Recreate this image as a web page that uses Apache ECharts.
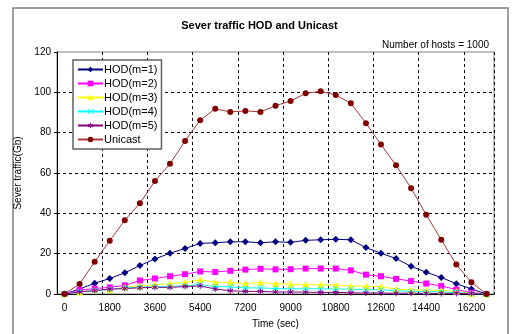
<!DOCTYPE html>
<html>
<head>
<meta charset="utf-8">
<script src="https://cdn.jsdelivr.net/npm/echarts@6/dist/echarts.min.js"></script>
<style>
  html, body { margin: 0; padding: 0; background: #fff; }
  #chart { width: 519px; height: 334px; }
</style>
</head>
<body>
<div id="chart"></div>
<script>
// time in seconds, one point every 600 s
var times = [0, 600, 1200, 1800, 2400, 3000, 3600, 4200, 4800, 5400, 6000, 6600, 7200, 7800, 8400,
  9000, 9600, 10200, 10800, 11400, 12000, 12600, 13200, 13800, 14400, 15000, 15600, 16200, 16800];

var hod1 = [0, 2.5, 5.3, 7.7, 10.5, 14.1, 17.4, 20.2, 22.6, 25.1, 25.4, 25.9, 25.9, 25.4, 25.9,
  25.6, 26.6, 26.9, 27.1, 26.9, 23, 20.2, 17.6, 13.7, 10.8, 8.2, 5.1, 2.5, 0];
var hod2 = [0, 2, 2.7, 3.3, 4.3, 6.7, 7.7, 8.8, 9.8, 11.2, 10.9, 11.5, 12.1, 12.5, 12.2,
  12.3, 12.6, 12.6, 12.6, 11.7, 9.6, 8.8, 7.5, 6.4, 5.2, 4, 2.2, 0.7, 0];
var hod3 = [0, 1, 1.8, 2.3, 3.3, 4, 4.6, 5.1, 5.8, 7.1, 5.8, 5.8, 5.2, 5.7, 5.2,
  4.8, 4.6, 4.6, 4.4, 4.0, 3.8, 3.7, 2.4, 2.0, 1.9, 1.8, 1.2, 0.4, 0];
var hod4 = [0, 1.2, 1.6, 2.4, 3.0, 3.4, 3.6, 3.7, 4.1, 4.6, 3.7, 3.5, 3.0, 3.0, 2.7,
  2.6, 2.6, 2.6, 2.5, 2.4, 2.1, 2.1, 1.6, 1.3, 1.1, 1.1, 0.7, 0.2, 0];
var hod5 = [0, 1, 1.7, 2.4, 2.7, 3.1, 3.3, 3.3, 3.7, 4.0, 2.5, 1.6, 1.3, 1.3, 1.0,
  1.0, 0.9, 0.8, 0.8, 0.6, 0.5, 0.5, 0.4, 0.4, 0.3, 0.3, 0.3, 0.2, 0];
var unicast = [0, 5, 16, 26.4, 36.6, 45, 56, 64.6, 75.9, 86.2, 91.8, 90.3, 90.8, 90.3, 93.4,
  95.7, 99.5, 100.5, 98.7, 94.6, 84.7, 74.1, 63.8, 52.5, 39.3, 26.9, 14.6, 5.8, 0];

var font = 'Liberation Sans';
var xMark = 'path://M0,1L1,0L5,4L9,0L10,1L6,5L10,9L9,10L5,6L1,10L0,9L4,5Z';
var starMark = 'path://M4.3,0H5.7V3.3L8.6,1.6L9.3,2.8L6.4,4.5L9.3,6.2L8.6,7.4L5.7,5.7V9H4.3V5.7L1.4,7.4L0.7,6.2L3.6,4.5L0.7,2.8L1.4,1.6L4.3,3.3Z';

function line(name, data, color, symbol, size, lineColor) {
  return {
    name: name,
    type: 'line',
    data: data,
    symbol: symbol,
    symbolSize: size,
    showSymbol: true,
    animation: false,
    lineStyle: { color: lineColor || color, width: 1 },
    itemStyle: { color: color }
  };
}

var myChart = echarts.init(document.getElementById('chart'));
var option = {
  backgroundColor: '#fff',
  animation: false,
  textStyle: { fontFamily: font },
  title: [
    {
      text: 'Sever traffic HOD and Unicast',
      left: 'center',
      top: 15,
      textStyle: { fontSize: 11, fontWeight: 'bold', color: '#000', fontFamily: font }
    },
    {
      text: 'Number of hosts = 1000',
      right: 25,
      top: 35,
      textStyle: { fontSize: 10, fontWeight: 'normal', color: '#000', fontFamily: font }
    }
  ],
  graphic: [{
    type: 'rect',
    shape: { x: 13, y: 8, width: 495, height: 340 },
    style: { fill: 'none', stroke: '#808080', lineWidth: 1.5 },
    silent: true
  }],
  legend: {
    orient: 'vertical',
    left: 73,
    top: 60,
    itemWidth: 25,
    itemHeight: 7,
    itemGap: 1,
    padding: [3, 4, 3, 4],
    backgroundColor: '#fff',
    borderColor: '#606060',
    borderWidth: 1.5,
    textStyle: { fontSize: 11, color: '#000', fontFamily: font, padding: [0, 0, 0, -4], lineHeight: 13 },
    data: ['HOD(m=1)', 'HOD(m=2)', 'HOD(m=3)', 'HOD(m=4)', 'HOD(m=5)', 'Unicast']
  },
  grid: {
    left: 57,
    right: 25,
    top: 52,
    bottom: 38,
    show: true,
    borderColor: '#808080',
    borderWidth: 1,
    backgroundColor: '#fff'
  },
  xAxis: {
    type: 'category',
    data: times,
    boundaryGap: true,
    name: 'Time (sec)',
    nameLocation: 'middle',
    nameGap: 25,
    nameTextStyle: { fontSize: 10, color: '#000', fontFamily: font },
    axisLine: { lineStyle: { color: '#000', width: 1 } },
    axisTick: { interval: 2, length: 4, lineStyle: { color: '#000' } },
    axisLabel: { interval: 2, fontSize: 10, color: '#000', margin: 9, fontFamily: font },
    splitLine: { show: true, interval: 2, lineStyle: { color: '#000', type: [3, 3], width: 1 } }
  },
  yAxis: {
    type: 'value',
    min: 0,
    max: 120,
    interval: 20,
    name: 'Sever traffic(Gb)',
    nameLocation: 'middle',
    nameGap: 23,
    nameTextStyle: { fontSize: 10, color: '#000', fontFamily: font },
    axisLine: { show: true, lineStyle: { color: '#000', width: 1 } },
    axisTick: { show: true, length: 3, lineStyle: { color: '#000' } },
    axisLabel: { fontSize: 10, color: '#000', margin: 6, fontFamily: font },
    splitLine: {
      show: true,
      lineStyle: {
        color: ['#000', '#000', '#000', '#000', '#000', '#000', 'rgba(0,0,0,0)'],
        type: [3, 3],
        width: 1
      }
    }
  },
  series: [
    line('HOD(m=1)', hod1, '#000080', 'diamond', 7),
    line('HOD(m=2)', hod2, '#ff00ff', 'rect', 6),
    line('HOD(m=3)', hod3, '#ffff00', 'triangle', 7),
    line('HOD(m=4)', hod4, '#00ffff', xMark, 6),
    line('HOD(m=5)', hod5, '#800080', starMark, 6),
    line('Unicast', unicast, '#800000', 'circle', 6, '#a83a3a')
  ]
};
myChart.setOption(option);
</script>
</body>
</html>
